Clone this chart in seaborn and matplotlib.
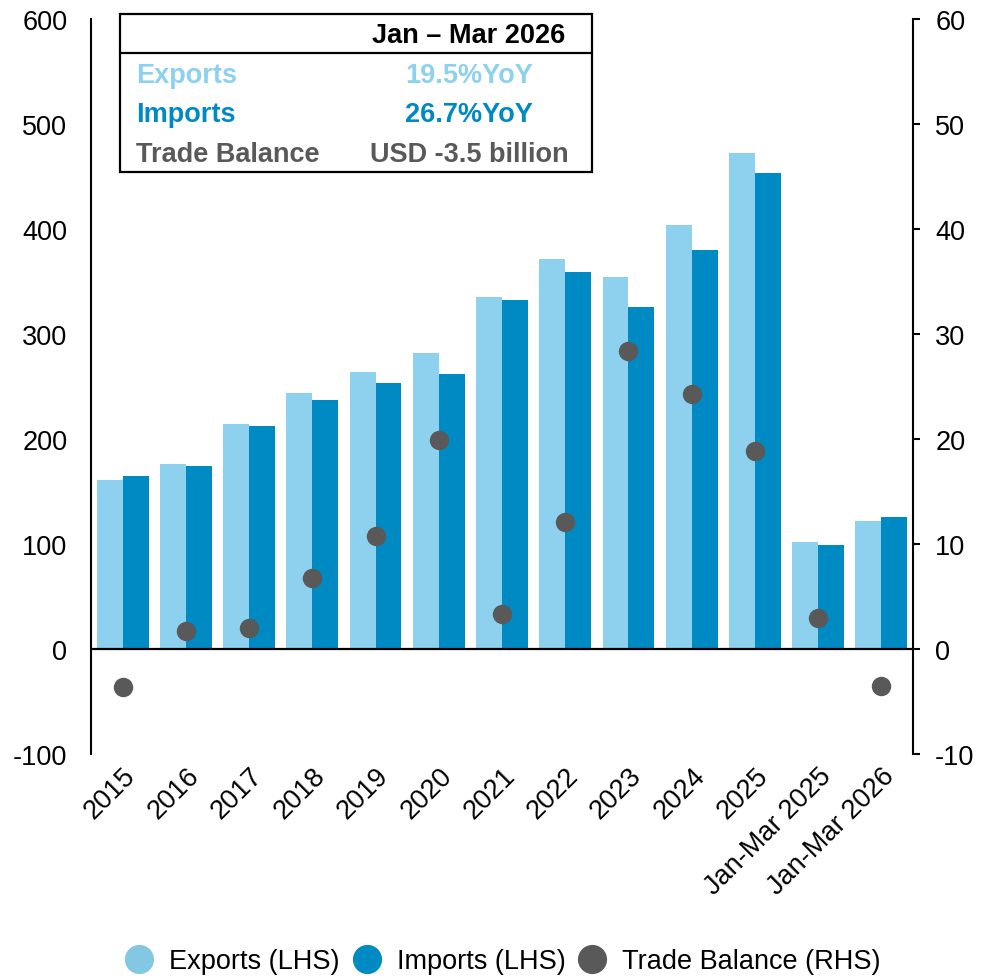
import matplotlib
matplotlib.use("Agg")
import matplotlib.pyplot as plt
from matplotlib.patches import Rectangle
from matplotlib.lines import Line2D
import numpy as np
import pandas as pd
import seaborn as sns

# ---- data (USD billion) ----
categories = ["2015", "2016", "2017", "2018", "2019", "2020", "2021", "2022",
              "2023", "2024", "2025", "Jan-Mar 2025", "Jan-Mar 2026"]
exports = [161, 176, 214.5, 244, 264, 282, 335.5, 371, 354, 404, 472.5, 102, 121.9]
imports = [165, 174, 212.5, 237, 253, 262, 332.7, 359, 326, 379.6, 453.8, 99, 125.4]
balance = [-3.6, 1.7, 2.0, 6.8, 10.8, 19.9, 3.3, 12.1, 28.4, 24.3, 18.9, 3.0, -3.5]

left_ticks = [-100, 0, 100, 200, 300, 400, 500, 600]
right_ticks = [-10, 0, 10, 20, 30, 40, 50, 60]

table_header = "Jan \u2013 Mar 2026"
table_rows = [("Exports", "19.5%YoY"),
              ("Imports", "26.7%YoY"),
              ("Trade Balance", "USD -3.5 billion")]

C_EXP = "#8DD1EE"
C_IMP = "#008AC4"
C_BAL = "#595959"
FS = 19.5

sns.set_theme(style="white")
plt.rcParams["font.family"] = ["Liberation Sans", "DejaVu Sans"]
plt.rcParams["axes.unicode_minus"] = False
plt.rcParams["text.color"] = "black"

W, H = 993, 979
fig = plt.figure(figsize=(W / 100, H / 100), dpi=100)
ax = fig.add_axes([91 / W, 1 - 755 / H, (913 - 91) / W, (755 - 20) / H])

df = pd.DataFrame({
    "period": categories * 2,
    "value": exports + imports,
    "series": ["Exports (LHS)"] * len(categories) + ["Imports (LHS)"] * len(categories),
})
sns.barplot(data=df, x="period", y="value", hue="series", order=categories,
            palette=[C_EXP, C_IMP], saturation=1, width=0.82, gap=0,
            linewidth=0, ax=ax, legend=False)

ax.set_xlim(-0.5, len(categories) - 0.5)
ax.set_ylim(-100, 600)
ax.set_yticks(left_ticks)
ax.set_xlabel("")
ax.set_ylabel("")
ax.axhline(0, color="black", lw=1.6, zorder=3)

for s in ["top", "bottom", "right"]:
    ax.spines[s].set_visible(False)
ax.spines["left"].set_color("black")
ax.spines["left"].set_linewidth(1.5)
ax.tick_params(axis="y", length=0, pad=17, labelsize=FS, colors="black")
ax.tick_params(axis="x", length=0, pad=6, labelsize=FS, colors="black")
for lab in ax.get_xticklabels():
    lab.set_rotation(45)
    lab.set_ha("right")
    lab.set_va("top")
    lab.set_rotation_mode("anchor")

# trade balance on the right-hand axis
ax2 = ax.twinx()
sns.stripplot(x=categories, y=balance, order=categories, jitter=False,
              color=C_BAL, size=14, linewidth=0, ax=ax2, zorder=5)
ax2.set_xlim(-0.5, len(categories) - 0.5)
ax2.set_ylim(-10, 60)
ax2.set_yticks(right_ticks)
for s in ["top", "bottom", "left"]:
    ax2.spines[s].set_visible(False)
ax2.spines["right"].set_color("black")
ax2.spines["right"].set_linewidth(1.5)
ax2.tick_params(axis="y", length=5, width=1.5, pad=11, labelsize=FS,
                colors="black", right=True, left=False)
ax2.tick_params(axis="x", length=0, labelbottom=False)

# summary box
def fx(px):
    return px / W

def fy(py):
    return 1 - py / H

fig.add_artist(Rectangle((fx(120), fy(173)), fx(592) - fx(120), fy(15) - fy(173),
                         transform=fig.transFigure, fill=False, ec="black", lw=1.6))
fig.add_artist(Line2D([fx(120), fx(592)], [fy(54), fy(54)],
                      transform=fig.transFigure, color="black", lw=1.6))
fig.text(fx(469), fy(36), table_header, ha="center", va="center",
         fontsize=FS, fontweight="bold", color="black")
row_colors = [C_EXP, C_IMP, C_BAL]
row_y = [76, 115, 155]
for (label, val), col, yy in zip(table_rows, row_colors, row_y):
    fig.text(fx(136), fy(yy), label, ha="left", va="center",
             fontsize=FS, fontweight="bold", color=col)
    fig.text(fx(469), fy(yy), val, ha="center", va="center",
             fontsize=FS, fontweight="bold", color=col)

# legend
handles = [Line2D([], [], ls="none", marker="o", ms=20, mfc=c, mec=c)
           for c in ["#84C7E2", C_IMP, C_BAL]]
labels = ["Exports (LHS)", "Imports (LHS)", "Trade Balance (RHS)"]
fig.legend(handles, labels, loc="center", bbox_to_anchor=(fx(502), fy(962)),
           ncol=3, frameon=False, fontsize=FS, handletextpad=0.5,
           columnspacing=0.4, handlelength=1.2, labelcolor="black")

fig.savefig("out.png", dpi=100)
